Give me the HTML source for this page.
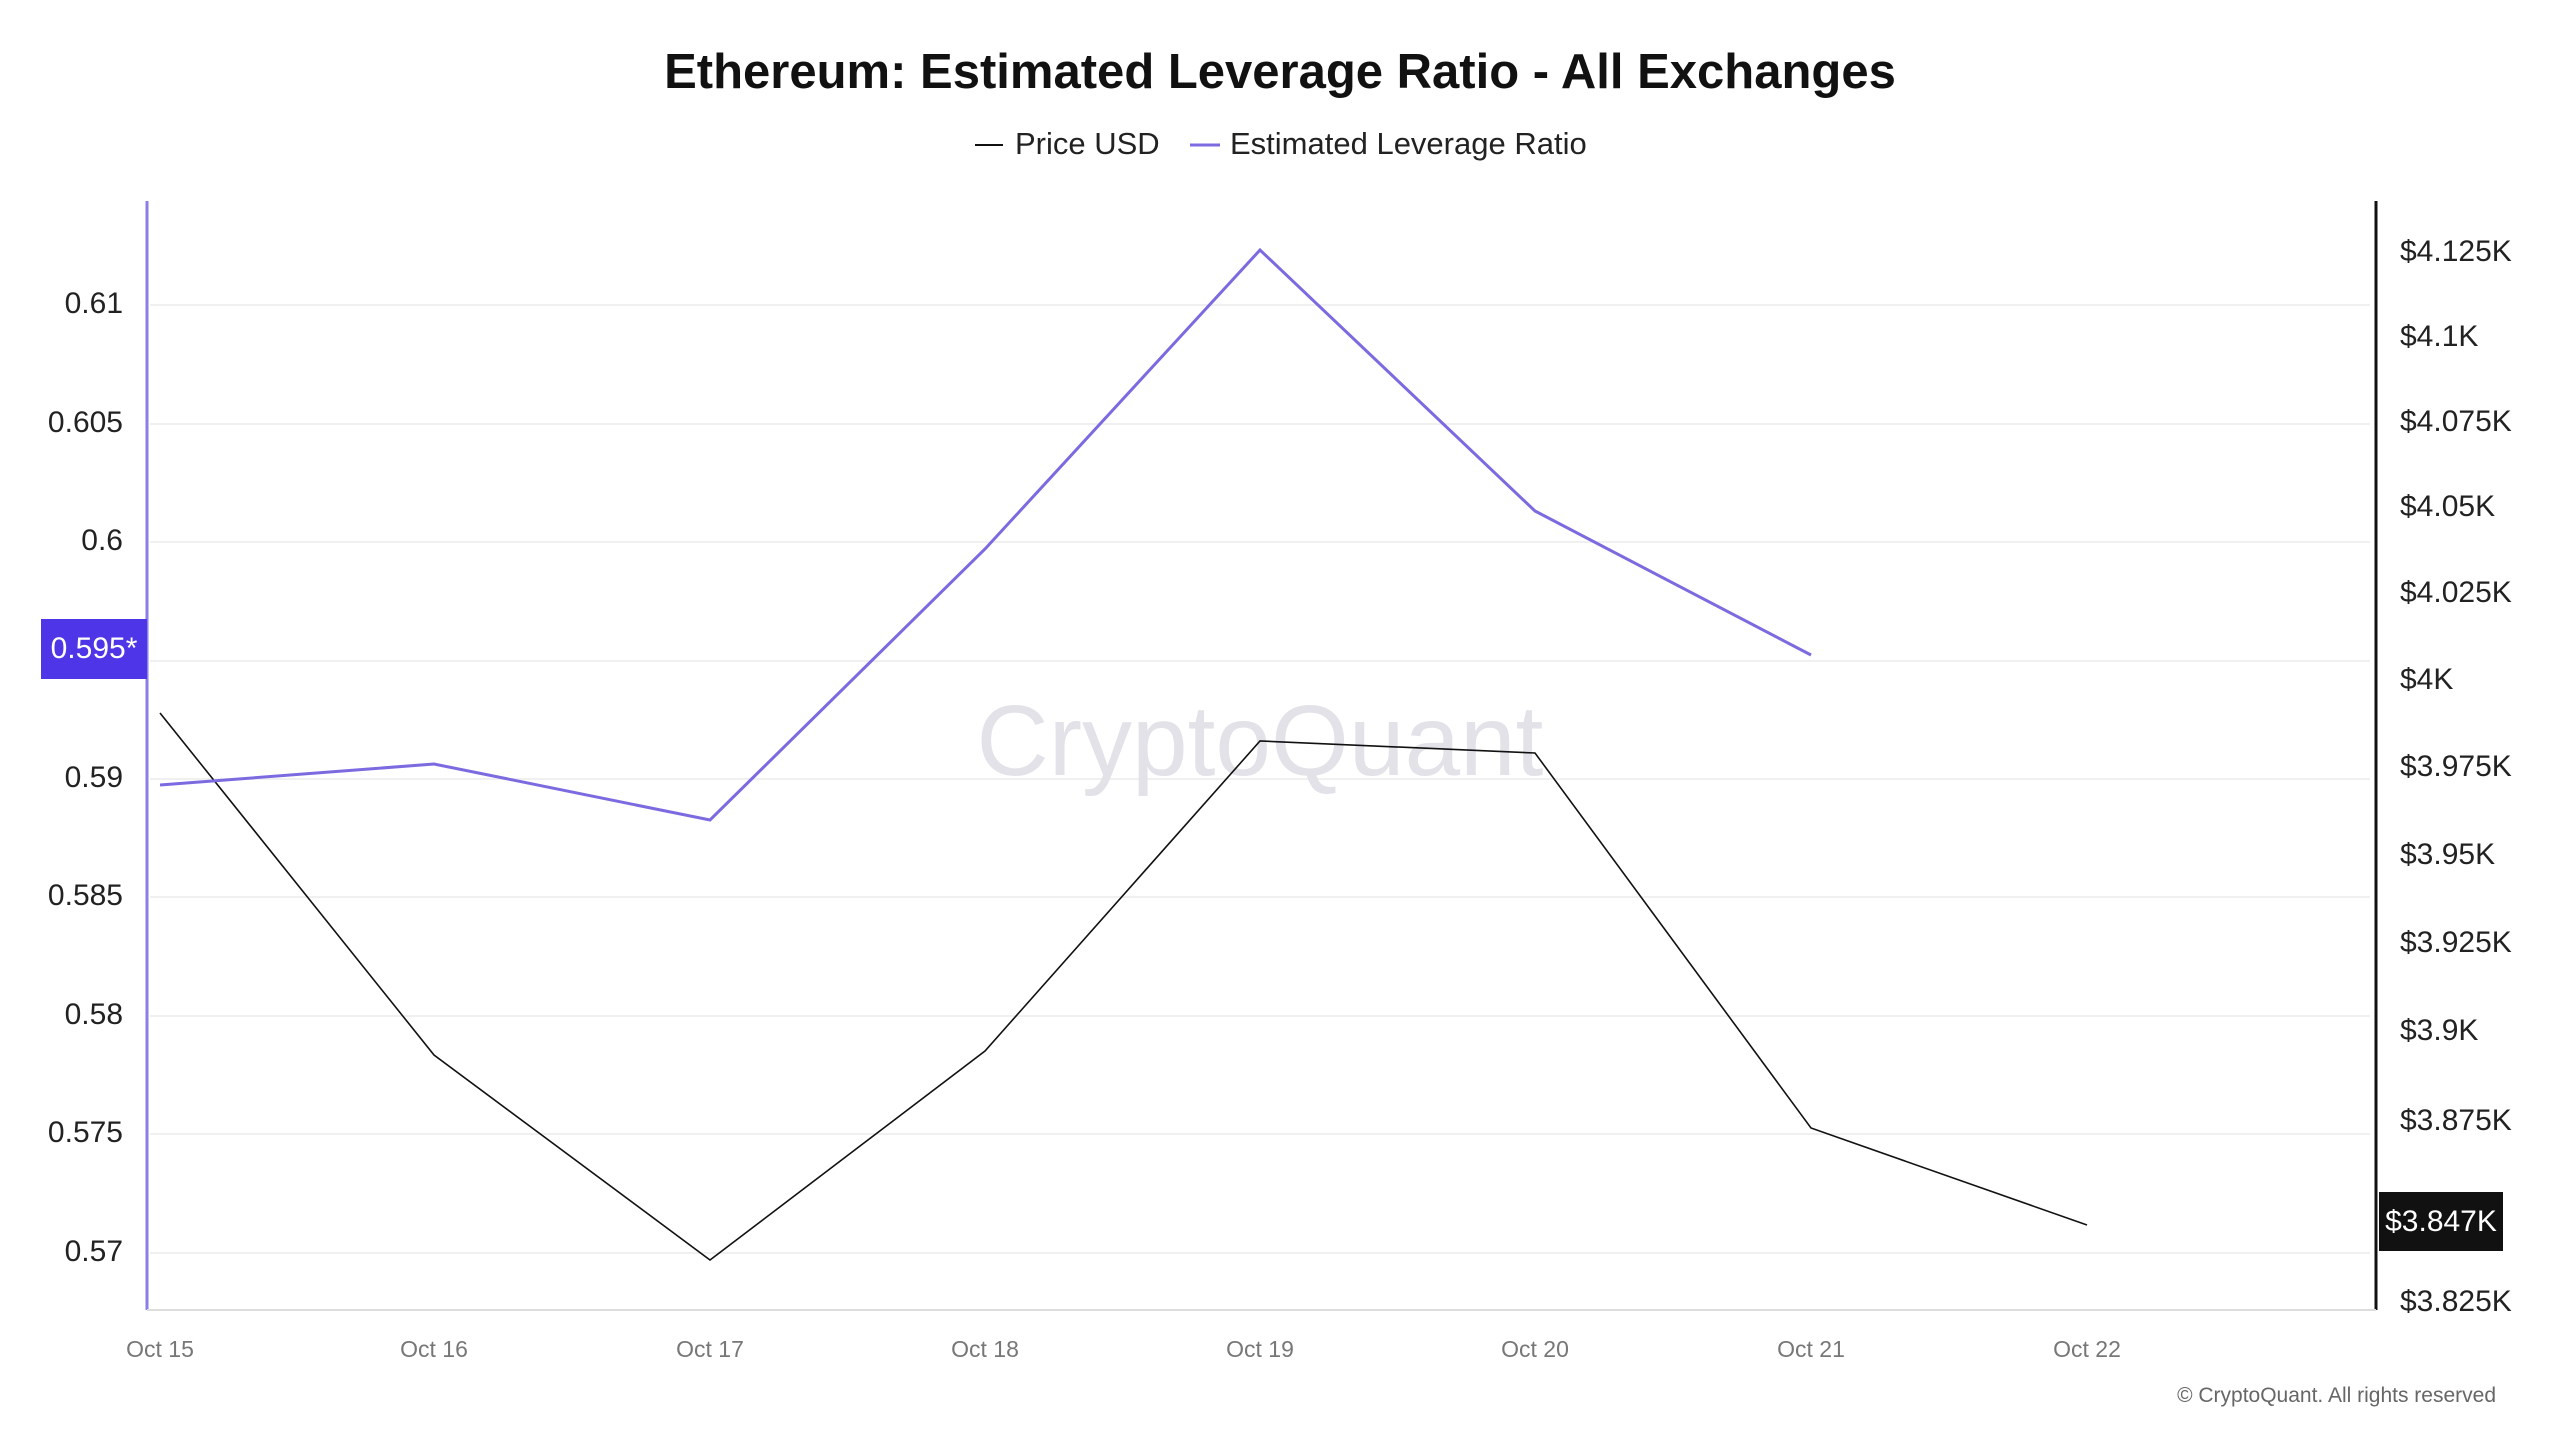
<!DOCTYPE html>
<html><head><meta charset="utf-8"><style>
html,body{margin:0;padding:0;background:#fff;}
body{width:2560px;height:1440px;overflow:hidden;position:relative;font-family:"Liberation Sans",sans-serif;}
.t{position:absolute;white-space:nowrap;}
</style></head><body>
<svg width="2560" height="1440" style="position:absolute;left:0;top:0">
<g stroke="#f0f0f0" stroke-width="2">
<line x1="150" x2="2370" y1="305" y2="305"/><line x1="150" x2="2370" y1="424" y2="424"/>
<line x1="150" x2="2370" y1="542" y2="542"/><line x1="150" x2="2370" y1="661" y2="661"/>
<line x1="150" x2="2370" y1="779" y2="779"/><line x1="150" x2="2370" y1="897" y2="897"/>
<line x1="150" x2="2370" y1="1016" y2="1016"/><line x1="150" x2="2370" y1="1134" y2="1134"/>
<line x1="150" x2="2370" y1="1253" y2="1253"/>
</g>
<line x1="147" y1="201" x2="147" y2="1310" stroke="#8b7ee8" stroke-width="3"/>
<line x1="2376" y1="201" x2="2376" y2="1310" stroke="#111" stroke-width="3"/>
<line x1="147" y1="1310" x2="2376" y2="1310" stroke="#ddd" stroke-width="2"/>
<text x="1260" y="775" text-anchor="middle" font-family="Liberation Sans,sans-serif" font-size="100" fill="#e2e2e8">CryptoQuant</text>
<polyline fill="none" stroke="#111" stroke-width="1.6" points="160,713 434,1055 710,1260 985,1051 1260,741 1535,753 1811,1128 2087,1225"/>
<polyline fill="none" stroke="#7b6ae0" stroke-width="3" points="160,785 434,764 710,820 985,549 1260,250 1535,511 1811,655"/>
<line x1="975" y1="145" x2="1003" y2="145" stroke="#111" stroke-width="2"/>
<line x1="1190" y1="145" x2="1220" y2="145" stroke="#7b6ae0" stroke-width="3"/>
</svg>
<div class="t" style="left:0;width:2560px;text-align:center;top:44px;font-size:49px;font-weight:bold;color:#111">Ethereum: Estimated Leverage Ratio - All Exchanges</div>
<div class="t" style="left:1015px;top:126px;font-size:31px;color:#222">Price USD</div>
<div class="t" style="left:1230px;top:126px;font-size:31px;color:#222">Estimated Leverage Ratio</div>
<div class="t" style="left:0;width:123px;text-align:right;top:287px;font-size:30px;color:#222">0.61</div>
<div class="t" style="left:0;width:123px;text-align:right;top:406px;font-size:30px;color:#222">0.605</div>
<div class="t" style="left:0;width:123px;text-align:right;top:524px;font-size:30px;color:#222">0.6</div>
<div class="t" style="left:0;width:123px;text-align:right;top:761px;font-size:30px;color:#222">0.59</div>
<div class="t" style="left:0;width:123px;text-align:right;top:879px;font-size:30px;color:#222">0.585</div>
<div class="t" style="left:0;width:123px;text-align:right;top:998px;font-size:30px;color:#222">0.58</div>
<div class="t" style="left:0;width:123px;text-align:right;top:1116px;font-size:30px;color:#222">0.575</div>
<div class="t" style="left:0;width:123px;text-align:right;top:1235px;font-size:30px;color:#222">0.57</div>
<div class="t" style="left:41px;top:619px;width:106px;height:60px;background:#4f35e8;color:#fff;font-size:30px;line-height:60px;text-align:center">0.595*</div>
<div style="position:absolute;left:2400px;top:0;font-size:30px;color:#222">
<div class="t" style="top:235px">$4.125K</div>
<div class="t" style="top:320px">$4.1K</div>
<div class="t" style="top:405px">$4.075K</div>
<div class="t" style="top:490px">$4.05K</div>
<div class="t" style="top:576px">$4.025K</div>
<div class="t" style="top:663px">$4K</div>
<div class="t" style="top:750px">$3.975K</div>
<div class="t" style="top:838px">$3.95K</div>
<div class="t" style="top:926px">$3.925K</div>
<div class="t" style="top:1014px">$3.9K</div>
<div class="t" style="top:1104px">$3.875K</div>
<div class="t" style="top:1285px">$3.825K</div>
</div>
<div class="t" style="left:2379px;top:1192px;width:124px;height:59px;background:#111;color:#fff;font-size:30px;line-height:59px;text-align:center">$3.847K</div>
<div style="position:absolute;top:1336px;font-size:23px;color:#777">
<div class="t" style="left:110px;width:100px;text-align:center">Oct 15</div>
<div class="t" style="left:384px;width:100px;text-align:center">Oct 16</div>
<div class="t" style="left:660px;width:100px;text-align:center">Oct 17</div>
<div class="t" style="left:935px;width:100px;text-align:center">Oct 18</div>
<div class="t" style="left:1210px;width:100px;text-align:center">Oct 19</div>
<div class="t" style="left:1485px;width:100px;text-align:center">Oct 20</div>
<div class="t" style="left:1761px;width:100px;text-align:center">Oct 21</div>
<div class="t" style="left:2037px;width:100px;text-align:center">Oct 22</div>
</div>
<div class="t" style="right:64px;top:1384px;font-size:21px;color:#666">© CryptoQuant. All rights reserved</div>
</body></html>
